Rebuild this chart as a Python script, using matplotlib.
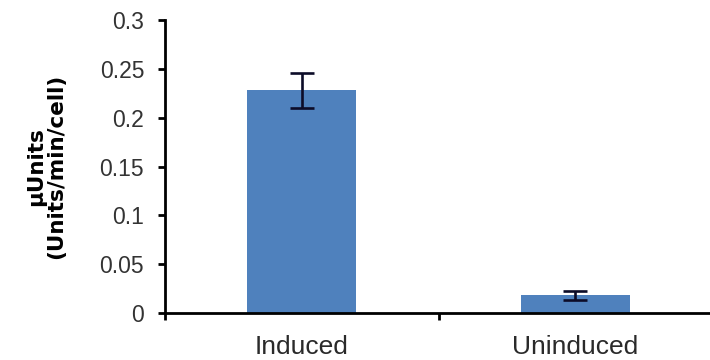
import matplotlib
matplotlib.use('Agg')
import matplotlib.pyplot as plt
import numpy as np

# beta-gal activity, induced vs uninduced cultures
conditions = ['Induced', 'Uninduced']
activity = [0.228, 0.018]
activity_err = [0.018, 0.005]
y_ticks = [0, 0.05, 0.1, 0.15, 0.2, 0.25, 0.3]
y_tick_labels = ['0', '0.05', '0.1', '0.15', '0.2', '0.25', '0.3']

bar_color = '#4f81bd'
err_color = '#0c0c28'

fig = plt.figure(figsize=(7.1, 3.6), dpi=100)
ax = fig.add_axes([165 / 710, 47 / 360, 547 / 710, 293 / 360])

x = np.arange(len(conditions))
ax.bar(x, activity, width=0.4, color=bar_color, zorder=2)
ax.errorbar(x, activity, yerr=activity_err, fmt='none', ecolor=err_color,
            elinewidth=1.9, capsize=8.6, capthick=1.9, zorder=3)

ax.set_xlim(-0.5, len(conditions) - 0.5)
ax.set_ylim(0, 0.3)

# category boundaries get the tick marks, names sit on minor ticks
ax.set_xticks(np.arange(len(conditions) + 1) - 0.5)
ax.set_xticklabels([])
ax.set_xticks(x, minor=True)
ax.set_xticklabels(conditions, minor=True, fontsize=19,
                   family='Liberation Sans', color='#2a2a2a')
ax.tick_params(axis='x', which='minor', length=0, pad=16)
ax.tick_params(axis='x', which='major', length=5, width=2, direction='out')

ax.set_yticks(y_ticks)
ax.set_yticklabels(y_tick_labels, fontsize=16.5, family='Liberation Sans',
                   color='#333333')
ax.tick_params(axis='y', length=5, width=2, direction='out', pad=10)

for side in ['top', 'right']:
    ax.spines[side].set_visible(False)
for side in ['left', 'bottom']:
    ax.spines[side].set_linewidth(2)
    ax.spines[side].set_color('black')

# y label centred on the axes height
fig.text(46 / 710, 1 - 166.5 / 360, 'µUnits\n(Units/min/cell)',
         rotation=90, ha='center', va='center', fontsize=15.5,
         fontweight='bold', family='DejaVu Sans', linespacing=1.0)

fig.savefig('out.png', dpi=100)
